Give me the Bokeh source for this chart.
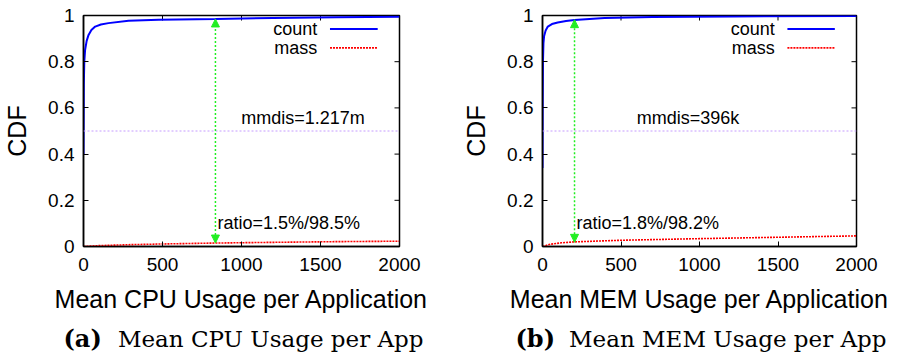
import math
from bokeh.plotting import figure
from bokeh.layouts import row, column
from bokeh.models import (Range1d, FixedTicker, Span, Label, Arrow,
                          NormalHead, CustomJSTickFormatter)
from bokeh.embed import file_html
from bokeh.resources import INLINE

# ---- data ----
x_ticks = [0, 500, 1000, 1500, 2000]
y_ticks = [0, 0.2, 0.4, 0.6, 0.8, 1.0]

cpu_count_x = [0, 0, 2, 5, 10, 20, 32, 50, 74, 110, 158, 285, 475, 835, 1200, 1600, 2000]
cpu_count_y = [0.40, 0.40, 0.70, 0.80, 0.85, 0.89, 0.916, 0.937, 0.952, 0.961, 0.967, 0.977, 0.982, 0.985, 0.989, 0.992, 0.995]
cpu_mass_x = [0, 100, 300, 500, 835, 1200, 1600, 2000]
cpu_mass_y = [0, 0.004, 0.008, 0.011, 0.015, 0.018, 0.021, 0.023]
cpu_mmdis_x = 835
cpu_ratio = (0.015, 0.985)
cpu_mmdis_label = "mmdis=1.217m"
cpu_ratio_label = "ratio=1.5%/98.5%"

mem_count_x = [0, 1, 3, 6, 10, 20, 34, 60, 97, 150, 204, 395, 700, 1200, 2000]
mem_count_y = [0.34, 0.60, 0.80, 0.88, 0.91, 0.935, 0.952, 0.963, 0.970, 0.976, 0.981, 0.989, 0.993, 0.996, 0.998]
mem_mass_x = [0, 50, 120, 204, 500, 1000, 1500, 2000]
mem_mass_y = [0, 0.010, 0.016, 0.020, 0.027, 0.034, 0.040, 0.046]
mem_mmdis_x = 204
mem_ratio = (0.018, 0.982)
mem_mmdis_label = "mmdis=396k"
mem_ratio_label = "ratio=1.8%/98.2%"

median_level = 0.5

SANS = "Liberation Sans"
SERIF = "DejaVu Serif"
PLOT_H = 318
CAP_H = 40


def panel(width, bl, br, xlabel, cx, cy, mx, my, mm_x, ratio, mm_label, mm_label_x,
          ratio_label, cap_tag, cap_text, cap_left, cap_right):
    p = figure(width=width, height=PLOT_H, output_backend="svg", toolbar_location=None,
               x_range=Range1d(0, 2000), y_range=Range1d(0, 1),
               min_border_left=bl, min_border_right=br, min_border_top=15,
               min_border_bottom=PLOT_H - 246, frame_align=False)
    p.grid.visible = False
    p.outline_line_color = "black"
    p.outline_line_width = 1.5

    fmt = CustomJSTickFormatter(code="return String(Math.round(tick*10)/10)")
    for ax in p.xaxis:
        ax.ticker = FixedTicker(ticks=x_ticks)
        ax.axis_label = xlabel
    for ax in p.yaxis:
        ax.ticker = FixedTicker(ticks=y_ticks)
        ax.formatter = fmt
        ax.axis_label = "CDF"
    for ax in list(p.xaxis) + list(p.yaxis):
        ax.major_tick_in = 5
        ax.major_tick_out = 0
        ax.minor_tick_line_color = None
        ax.axis_line_color = "black"
        ax.axis_line_width = 1.5
        ax.major_tick_line_color = "black"
        ax.major_label_text_font = SANS
        ax.major_label_text_font_size = "19px"
        ax.major_label_text_color = "black"
        ax.axis_label_text_font = SANS
        ax.axis_label_text_font_size = "25px"
        ax.axis_label_text_font_style = "normal"
        ax.axis_label_text_color = "black"
    p.xaxis.major_label_standoff = 11
    p.xaxis.axis_label_standoff = 11
    p.yaxis.major_label_standoff = 9
    p.yaxis.axis_label_standoff = 14

    # mirrored ticks on top and right edges (clipped to the frame -> half visible)
    p.scatter(x_ticks, [1] * len(x_ticks), marker="dash", size=10, angle=math.pi / 2,
              line_color="black", line_width=1)
    p.scatter([2000] * len(y_ticks), y_ticks, marker="dash", size=10,
              line_color="black", line_width=1)

    p.add_layout(Span(location=median_level, dimension="width", line_color="#c59cff",
                      line_dash="2 2", line_width=1))

    p.line(mx, my, line_color="#ff0000", line_width=1.6, line_dash="2 1")
    p.line(cx, cy, line_color="#0000ff", line_width=2)

    p.add_layout(Arrow(x_start=mm_x, y_start=ratio[0], x_end=mm_x, y_end=ratio[1],
                       line_color="#22ee22", line_width=1.5, line_dash="2 2",
                       end=NormalHead(size=8, fill_color="#22ee22", line_color="#22ee22"),
                       start=NormalHead(size=8, fill_color="#22ee22", line_color="#22ee22")))

    p.add_layout(Label(x=mm_label_x, y=0.555, text=mm_label, text_font=SANS,
                       text_font_size="18px", text_color="black", text_baseline="alphabetic"))
    p.add_layout(Label(x=mm_x, y=0.10, x_offset=2, text=ratio_label, text_font=SANS,
                       text_font_size="18px", text_color="black", text_baseline="alphabetic"))

    # legend (gnuplot style: text right-aligned, sample to the right)
    for name, yy, color, dash in (("count", 0.942, "#0000ff", "solid"),
                                  ("mass", 0.86, "#ff0000", "2 1")):
        p.add_layout(Label(x=1480, y=yy, text=name, text_font=SANS, text_font_size="18px",
                           text_color="black", text_align="right", text_baseline="middle"))
        p.add_layout(Arrow(x_start=1560, y_start=yy, x_end=1862, y_end=yy, end=None,
                           line_color=color, line_width=2 if dash == "solid" else 1.6,
                           line_dash=dash))

    # caption strip below the chart
    c = figure(width=width, height=CAP_H, output_backend="svg", toolbar_location=None,
               x_range=Range1d(0, width), y_range=Range1d(0, CAP_H),
               x_axis_type=None, y_axis_type=None, min_border=0, frame_align=False)
    c.grid.visible = False
    c.outline_line_color = None
    c.add_layout(Label(x=cap_left, y=20, text=cap_tag, text_font=SERIF,
                       text_font_style="bold", text_font_size="24px", text_color="black",
                       text_baseline="alphabetic", text_align="left"))
    c.add_layout(Label(x=cap_right, y=20, text=cap_text, text_font=SERIF,
                       text_font_size="23px", text_color="black",
                       text_baseline="alphabetic", text_align="right"))
    return column(p, c, spacing=0)


p1 = panel(448, 83, 49, "Mean CPU Usage per Application", cpu_count_x, cpu_count_y,
           cpu_mass_x, cpu_mass_y, cpu_mmdis_x, cpu_ratio, cpu_mmdis_label, 998,
           cpu_ratio_label, "(a)", "Mean CPU Usage per App", 63, 423)
p2 = panel(449, 94, 41, "Mean MEM Usage per Application", mem_count_x, mem_count_y,
           mem_mass_x, mem_mass_y, mem_mmdis_x, mem_ratio, mem_mmdis_label, 600,
           mem_ratio_label, "(b)", "Mean MEM Usage per App", 515 - 448, 886 - 448)

layout = row(p1, p2, spacing=0)
open("out.html", "w").write(file_html(layout, INLINE))
